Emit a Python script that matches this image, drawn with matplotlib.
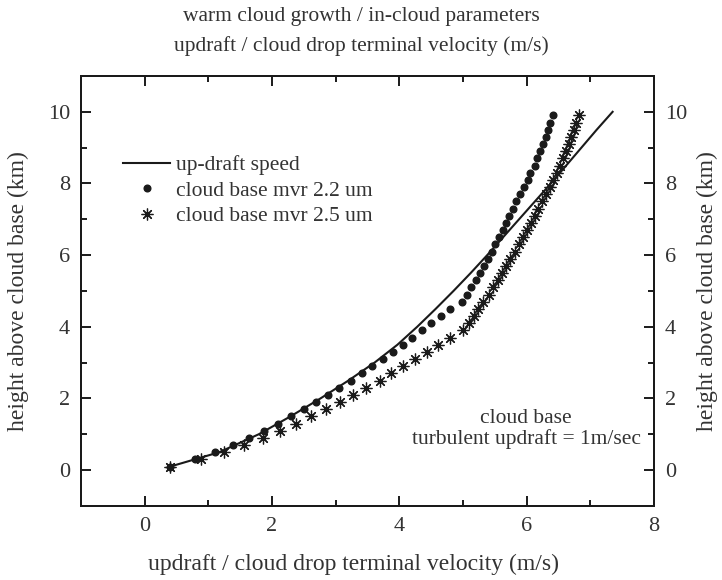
import matplotlib
matplotlib.use("Agg")
import matplotlib.pyplot as plt
from matplotlib.ticker import MultipleLocator

# --- data: heights above cloud base (km) and speeds (m/s) ---
updraft_height = [0.1, 0.5, 1.0, 1.5, 2.0, 2.5, 3.0, 3.5, 4.0, 4.5, 5.0,
                  5.5, 6.0, 6.5, 7.0, 7.5, 8.0, 8.5, 9.0, 9.5, 10.0]
updraft_speed = [0.40, 1.17, 1.79, 2.29, 2.76, 3.20, 3.61, 3.97, 4.28, 4.57, 4.85,
                 5.12, 5.38, 5.63, 5.88, 6.13, 6.38, 6.62, 6.86, 7.10, 7.35]

drop_height = [0.1, 0.3, 0.5, 0.7, 0.9, 1.1, 1.3, 1.5, 1.7, 1.9,
               2.1, 2.3, 2.5, 2.7, 2.9, 3.1, 3.3, 3.5, 3.7, 3.9,
               4.1, 4.3, 4.5, 4.7, 4.9, 5.1, 5.3, 5.5, 5.7, 5.9,
               6.1, 6.3, 6.5, 6.7, 6.9, 7.1, 7.3, 7.5, 7.7, 7.9,
               8.1, 8.3, 8.5, 8.7, 8.9, 9.1, 9.3, 9.5, 9.7, 9.9]

mvr22_speed = [0.40, 0.79, 1.10, 1.39, 1.64, 1.87, 2.09, 2.30, 2.50, 2.69,
               2.88, 3.06, 3.24, 3.42, 3.57, 3.75, 3.90, 4.06, 4.20, 4.36,
               4.50, 4.66, 4.80, 4.99, 5.06, 5.13, 5.20, 5.26, 5.33, 5.39,
               5.45, 5.51, 5.57, 5.63, 5.67, 5.73, 5.79, 5.84, 5.90, 5.96,
               6.02, 6.06, 6.13, 6.17, 6.21, 6.25, 6.31, 6.33, 6.36, 6.42]

mvr25_speed = [0.39, 0.88, 1.24, 1.56, 1.86, 2.13, 2.38, 2.62, 2.85, 3.07,
               3.28, 3.48, 3.69, 3.87, 4.06, 4.25, 4.44, 4.61, 4.79, 5.00,
               5.09, 5.18, 5.24, 5.32, 5.41, 5.47, 5.55, 5.61, 5.68, 5.74,
               5.81, 5.88, 5.94, 6.01, 6.07, 6.13, 6.18, 6.24, 6.30, 6.36,
               6.42, 6.47, 6.52, 6.57, 6.62, 6.66, 6.70, 6.74, 6.78, 6.82]

TEXT = '#333333'
INK = '#1a1a1a'
plt.rcParams['font.family'] = ['Liberation Serif', 'DejaVu Serif']
plt.rcParams['font.size'] = 16

fig = plt.figure(figsize=(7.22, 5.8), dpi=100)
ax = fig.add_axes([0.1122, 0.1276, 0.7936, 0.7414])

ax.plot(updraft_speed, updraft_height, '-', color=INK, lw=1.5, label='up-draft speed')
ax.plot(mvr22_speed, drop_height, 'o', color=INK, ms=4.8, mec=INK,
        label='cloud base mvr 2.2 um')
ax.plot(mvr25_speed, drop_height, ls='none', marker=(8, 2, 0), color=INK, ms=8.5,
        mew=0.9, label='cloud base mvr 2.5 um')

ax.set_xlim(-1, 8)
ax.set_ylim(-1, 11)

# left/bottom axis plus a mirrored right axis, ticks pointing inward
ax2 = ax.twinx()
ax2.set_ylim(ax.get_ylim())
for a in (ax, ax2):
    a.yaxis.set_major_locator(MultipleLocator(2))
    a.yaxis.set_minor_locator(MultipleLocator(1))
    for s in a.spines.values():
        s.set_linewidth(1.4)
        s.set_color(INK)
    a.tick_params(which='both', direction='in', color=INK, labelcolor=TEXT,
                  labelsize=16, width=1.4)
    a.tick_params(which='major', length=7, pad=8)
    a.tick_params(which='minor', length=4)
ax.xaxis.set_major_locator(MultipleLocator(2))
ax.xaxis.set_minor_locator(MultipleLocator(1))
ax.tick_params(which='both', top=True, right=False)

ax.set_xlabel('updraft / cloud drop terminal velocity (m/s)', color=TEXT, fontsize=17)
ax.xaxis.set_label_coords(0.475, -0.137)
ax.xaxis.label.set_va('center')

ax.set_ylabel('height above cloud base (km)', color=TEXT, fontsize=17)
ax.yaxis.set_label_coords(-0.11, 0.5)
ax.yaxis.label.set_va('center')

ax2.set_ylabel('height above cloud base (km)', color=TEXT, fontsize=17, rotation=90)
ax2.yaxis.set_label_coords(1.094, 0.5)
ax2.yaxis.label.set_va('center')

fig.text(0.5, 1 - 17 / 580, 'warm cloud growth / in-cloud parameters',
         color=TEXT, fontsize=15.5, ha='center', va='center')
fig.text(0.5, 1 - 46 / 580, 'updraft / cloud drop terminal velocity (m/s)',
         color=TEXT, fontsize=15.5, ha='center', va='center')

ax.text(5.99, 1.15, 'cloud base\nturbulent updraft = 1m/sec', color=TEXT,
        fontsize=15.5, ha='center', va='center', linespacing=1.1)

leg = ax.legend(loc='upper left', bbox_to_anchor=(0.073, 0.816), frameon=False,
                fontsize=15.5, handlelength=2.2, handletextpad=0.25,
                labelspacing=0.25, borderpad=0, borderaxespad=0)
for t in leg.get_texts():
    t.set_color(TEXT)

fig.savefig('out.png', dpi=100)
